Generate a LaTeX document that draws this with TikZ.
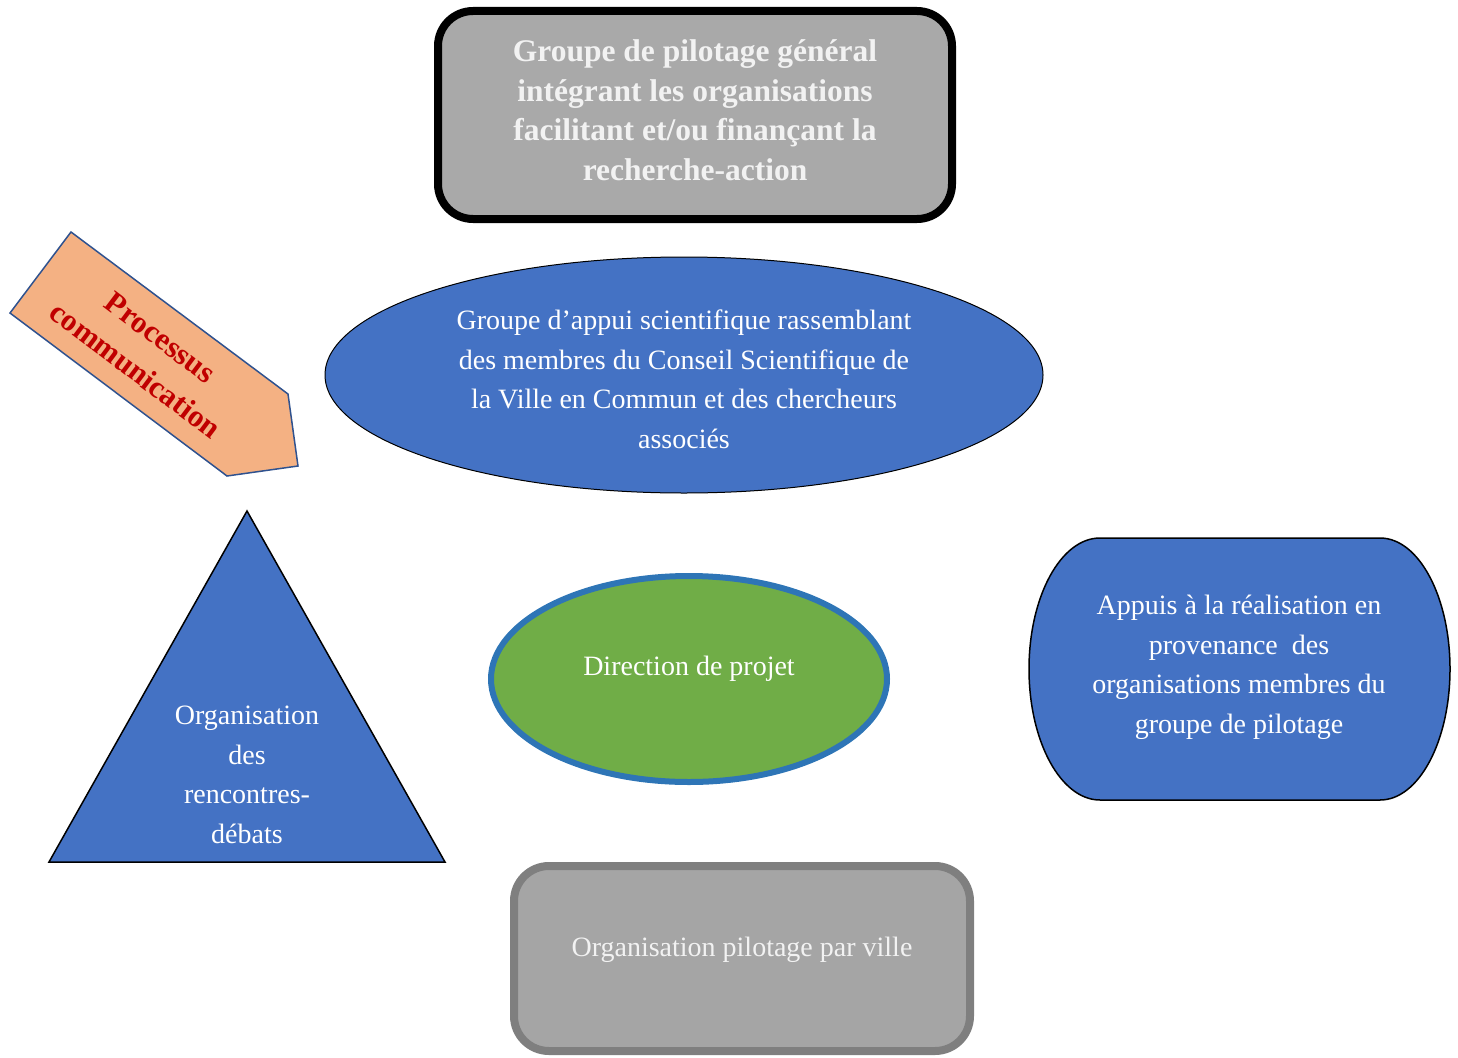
\documentclass[tikz,border=0pt]{standalone}
\usepackage{fontspec}
\setmainfont{Liberation Serif}
\usetikzlibrary{shapes.geometric}
\definecolor{boxblue}{HTML}{4472C4}
\definecolor{dirgreen}{HTML}{70AD47}
\definecolor{dirborder}{HTML}{2E75B6}
\definecolor{arrowfill}{HTML}{F4B183}
\definecolor{arrowborder}{HTML}{2F528F}
\definecolor{arrowtext}{HTML}{C00000}
\definecolor{topgray}{HTML}{A9A9A9}
\definecolor{botgray}{HTML}{A5A5A5}
\definecolor{botborder}{HTML}{7F7F7F}
\definecolor{offwhite}{HTML}{F2F2F2}
\begin{document}
\begin{tikzpicture}[x=1pt,y=1pt,
  regtext/.style={font=\fontsize{28}{39.5}\selectfont, align=center},
  graybox/.style={rounded corners=35pt, line width=8pt, text=offwhite, inner sep=0pt},
  blueshape/.style={fill=boxblue, draw=black, line width=1.5pt},
]
\useasboundingbox (0,0) rectangle (1458,-1057);

% top box
\node[graybox, draw=black, fill=topgray, minimum width=514pt, minimum height=208pt]
  (top) at (695,-115) {};
\node[font=\fontsize{31.5}{39.5}\selectfont\bfseries, align=center, text=offwhite]
  (toptext) at (695,-110) {Groupe de pilotage général\\intégrant les organisations\\facilitant et/ou finançant la\\recherche-action};

% scientific ellipse
\node[ellipse, blueshape, line width=1pt, minimum width=718pt, minimum height=236pt, inner sep=0pt]
  (sci) at (684,-375) {};
\node[regtext, text=white] (scitext) at (684,-379.5)
  {Groupe d’appui scientifique rassemblant\\des membres du Conseil Scientifique de\\la Ville en Commun et des chercheurs\\associés};

% arrow
\draw[fill=arrowfill, draw=arrowborder, line width=1.5pt, line join=miter]
  (71,-232) coordinate (a1) -- (288,-394) coordinate (a2) -- (298,-466) coordinate (a3)
  -- (227,-476) coordinate (a4) -- (10,-313) coordinate (a5) -- cycle;
\node[rotate=-37, font=\fontsize{31}{41}\selectfont\bfseries, align=center, text=arrowtext, inner sep=0pt]
  (proc) at (148,-354) {Processus\\communication};

% triangle
\draw[blueshape] (247,-511) coordinate (t1) -- (445,-862) coordinate (t2) -- (49,-862) coordinate (t3) -- cycle;
\node[regtext, text=white] (tritext) at (247,-775) {Organisation\\des\\rencontres-\\débats};

% direction ellipse
\node[ellipse, fill=dirgreen, draw=dirborder, line width=6pt, minimum width=396pt, minimum height=206pt,
      inner sep=0pt, regtext, text=white, text height=20pt, text depth=26.4pt]
  (dir) at (689,-679) {Direction de projet};

% right shape
\draw[blueshape] (1100,-538) coordinate (r1) -- (1380,-538) coordinate (r2)
  arc[start angle=90, end angle=-90, x radius=70, y radius=131] coordinate (r3)
  -- (1100,-800) coordinate (r4)
  arc[start angle=270, end angle=90, x radius=71, y radius=131] -- cycle;
\node[regtext, text=white] (appui) at (1239,-667.5) {Appuis à la réalisation en\\provenance~ des\\organisations membres du\\groupe de pilotage};

% bottom box
\node[graybox, draw=botborder, fill=botgray, minimum width=456pt, minimum height=185pt,
      regtext, text height=20pt, text depth=23.4pt]
  (bot) at (742,-958.5) {Organisation pilotage par ville};
\end{tikzpicture}
\end{document}
